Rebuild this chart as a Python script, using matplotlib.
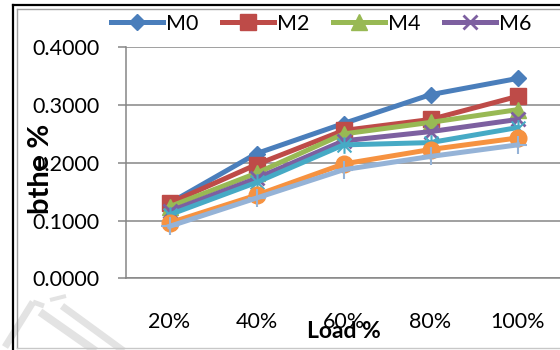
import matplotlib
matplotlib.use("Agg")
import matplotlib.pyplot as plt
from matplotlib.lines import Line2D
from matplotlib.path import Path
from matplotlib.ticker import FormatStrFormatter

plt.rcParams['font.family'] = ['Lato', 'DejaVu Sans']

# Brake thermal efficiency against engine load for each blend
loads = ["20%", "40%", "60%", "80%", "100%"]
series_names = ["M0", "M2", "M4", "M6", "M8", "M10", "M12"]
m0 = [0.130, 0.216, 0.268, 0.318, 0.346]
m2 = [0.130, 0.197, 0.256, 0.275, 0.315]
m4 = [0.124, 0.182, 0.250, 0.270, 0.292]
m6 = [0.116, 0.173, 0.238, 0.254, 0.275]
m8 = [0.110, 0.166, 0.231, 0.235, 0.261]
m10 = [0.096, 0.144, 0.198, 0.223, 0.243]
m12 = [0.090, 0.139, 0.188, 0.211, 0.231]
values = [m0, m2, m4, m6, m8, m10, m12]

# Excel-style star: an X with a vertical bar through it
star = Path([(-0.5, -0.5), (0.5, 0.5), (-0.5, 0.5), (0.5, -0.5), (0, -0.6), (0, 0.6)],
            [Path.MOVETO, Path.LINETO, Path.MOVETO, Path.LINETO, Path.MOVETO, Path.LINETO])

styles = [
    dict(color="#4A7EBB", marker="D", ms=8),
    dict(color="#BE4B48", marker="s", ms=11),
    dict(color="#98B954", marker="^", ms=11),
    dict(color="#7D60A0", marker="x", ms=10, mew=2),
    dict(color="#46AAC5", marker=star, ms=12, mew=1.5),
    dict(color="#F69240", marker="o", ms=12),
    dict(color="#95B3D7", marker="+", ms=13, mew=1.5),
]

W, H = 560, 350
fig = plt.figure(figsize=(W / 100, H / 100), dpi=100)

def fx(px):
    return px / W

def fy(py):
    return 1 - py / H

# faint publisher watermark strokes in the lower-left corner
mark = [
    ((5, 33), (347, 302), 7),
    ((33, 44), (302, 306), 5),
    ((40, 97), (312, 352), 8),
    ((50, 66), (300, 296), 4),
    ((62, 125), (306, 352), 7),
]
for xs, ys, lw in mark:
    fig.add_artist(Line2D([fx(v) for v in xs], [fy(v) for v in ys], color="#E3E3E3",
                          lw=lw * 0.72, solid_capstyle="butt", transform=fig.transFigure,
                          zorder=0))

ax = fig.add_axes([fx(126), fy(278.3), fx(561) - fx(126), fy(47.3) - fy(278.3)])
ax.patch.set_alpha(0)

x = list(range(len(loads)))
handles = []
for name, vals, st in zip(series_names, values, styles):
    h, = ax.plot(x, vals, color=st["color"], lw=3.6, marker=st["marker"],
                 ms=st["ms"], mew=st.get("mew", 1), mfc=st["color"], mec=st["color"],
                 label=name, solid_joinstyle="round", zorder=3)
    handles.append(h)

ax.set_xlim(-0.5, len(loads) - 0.5)
ax.set_ylim(0, 0.4)
ax.set_yticks([0, 0.1, 0.2, 0.3, 0.4])
ax.yaxis.set_major_formatter(FormatStrFormatter("%.4f"))
ax.set_xticks(x)
ax.set_xticklabels(loads)

grid_c = "#868686"
ax.grid(axis="y", color=grid_c, lw=1.1)
ax.set_axisbelow(True)
for s in ["top", "right"]:
    ax.spines[s].set_visible(False)
for s in ["left", "bottom"]:
    ax.spines[s].set_color(grid_c)
    ax.spines[s].set_linewidth(1.1)
ax.tick_params(axis="y", length=5.8, width=1.1, color=grid_c, pad=13, labelsize=15.5)
ax.tick_params(axis="x", length=0, pad=24, labelsize=15.5)

ax.set_xlabel("Load %", fontsize=16.5, fontweight="bold", labelpad=-8)
fig.text(fx(41), fy(169), "bthe %", rotation=90, ha="center", va="center",
         fontsize=21, fontweight="bold")

fig.legend(handles=handles[:4], loc="center left", ncol=4, frameon=False,
           bbox_to_anchor=(fx(111), fy(23.6)), borderpad=0, borderaxespad=0,
           fontsize=15.5, handlelength=2.4, handletextpad=0.15, columnspacing=1.1)

# page frame around the chart
frame = [
    ((13, 13), (5, 350), "black", 1.6),
    ((13, 560), (5, 5), "black", 1.6),
    ((17, 17), (8.5, 348), "#A0A0A0", 1.0),
    ((17, 560), (8.5, 8.5), "#A0A0A0", 1.0),
    ((17, 560), (348, 348), "#C8C8C8", 1.0),
]
for xs, ys, c, lw in frame:
    fig.add_artist(Line2D([fx(v) for v in xs], [fy(v) for v in ys], color=c, lw=lw,
                          transform=fig.transFigure))

fig.savefig("out.png", dpi=100)
